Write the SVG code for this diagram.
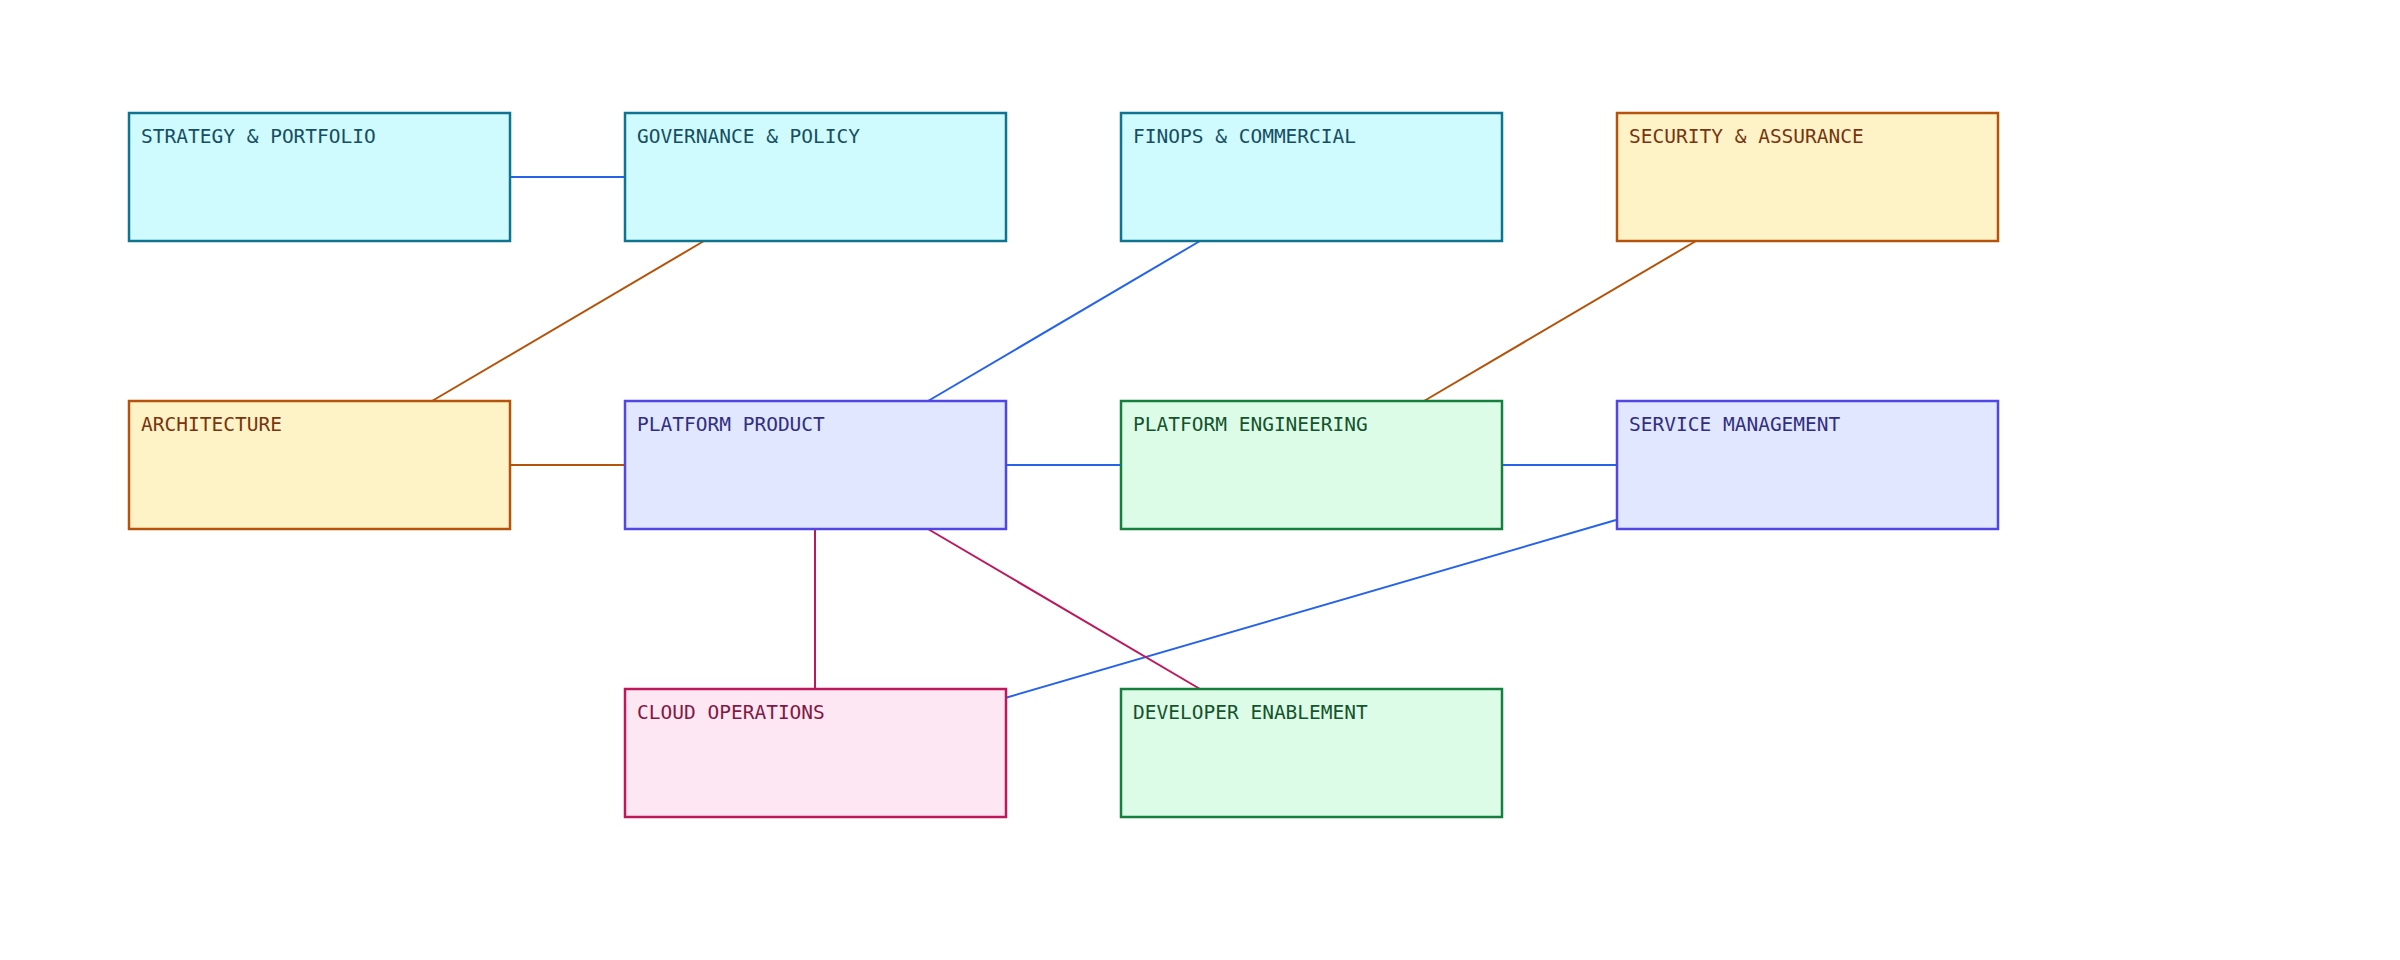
<svg xmlns="http://www.w3.org/2000/svg" width="2400" height="960" viewBox="0 0 2400 960">
<style>
rect{stroke-width:2.5}
text{font-family:"DejaVu Sans Mono","Liberation Mono",monospace;font-size:19.5px}
.c rect{fill:#cffafe;stroke:#0e7490}.c text{fill:#164e63}
.y rect{fill:#fef3c7;stroke:#b45309}.y text{fill:#78350f}
.i rect{fill:#e0e7ff;stroke:#4f46e5}.i text{fill:#312e81}
.g rect{fill:#dcfce7;stroke:#15803d}.g text{fill:#14532d}
.p rect{fill:#fce7f3;stroke:#be185d}.p text{fill:#831843}
#edges line{stroke-width:2}
.b{stroke:#2563eb}.o{stroke:#b45309}.r{stroke:#be185d}
</style>
<rect width="2400" height="960" fill="#fff"/>
<g id="edges">
<line class="b" x1="509" y1="177" x2="624" y2="177"/>
<line class="o" x1="704" y1="241" x2="432" y2="401"/>
<line class="b" x1="1200" y1="241" x2="928" y2="401"/>
<line class="o" x1="1696" y1="241" x2="1424" y2="401"/>
<line class="o" x1="509" y1="465" x2="624" y2="465"/>
<line class="b" x1="1005" y1="465" x2="1120" y2="465"/>
<line class="b" x1="1501" y1="465" x2="1616" y2="465"/>
<line class="b" x1="1616" y1="520" x2="1005" y2="698"/>
<line class="r" x1="815" y1="529" x2="815" y2="689"/>
<line class="r" x1="928" y1="529" x2="1200" y2="689"/>
</g>
<g id="strategy" class="c"><rect x="129" y="113" width="381" height="128"/><text x="141" y="143">STRATEGY &amp; PORTFOLIO</text></g>
<g id="governance" class="c"><rect x="625" y="113" width="381" height="128"/><text x="637" y="143">GOVERNANCE &amp; POLICY</text></g>
<g id="finops" class="c"><rect x="1121" y="113" width="381" height="128"/><text x="1133" y="143">FINOPS &amp; COMMERCIAL</text></g>
<g id="security" class="y"><rect x="1617" y="113" width="381" height="128"/><text x="1629" y="143">SECURITY &amp; ASSURANCE</text></g>
<g id="architecture" class="y"><rect x="129" y="401" width="381" height="128"/><text x="141" y="431">ARCHITECTURE</text></g>
<g id="platform-product" class="i"><rect x="625" y="401" width="381" height="128"/><text x="637" y="431">PLATFORM PRODUCT</text></g>
<g id="platform-engineering" class="g"><rect x="1121" y="401" width="381" height="128"/><text x="1133" y="431">PLATFORM ENGINEERING</text></g>
<g id="service-management" class="i"><rect x="1617" y="401" width="381" height="128"/><text x="1629" y="431">SERVICE MANAGEMENT</text></g>
<g id="cloud-operations" class="p"><rect x="625" y="689" width="381" height="128"/><text x="637" y="719">CLOUD OPERATIONS</text></g>
<g id="developer-enablement" class="g"><rect x="1121" y="689" width="381" height="128"/><text x="1133" y="719">DEVELOPER ENABLEMENT</text></g>
</svg>
